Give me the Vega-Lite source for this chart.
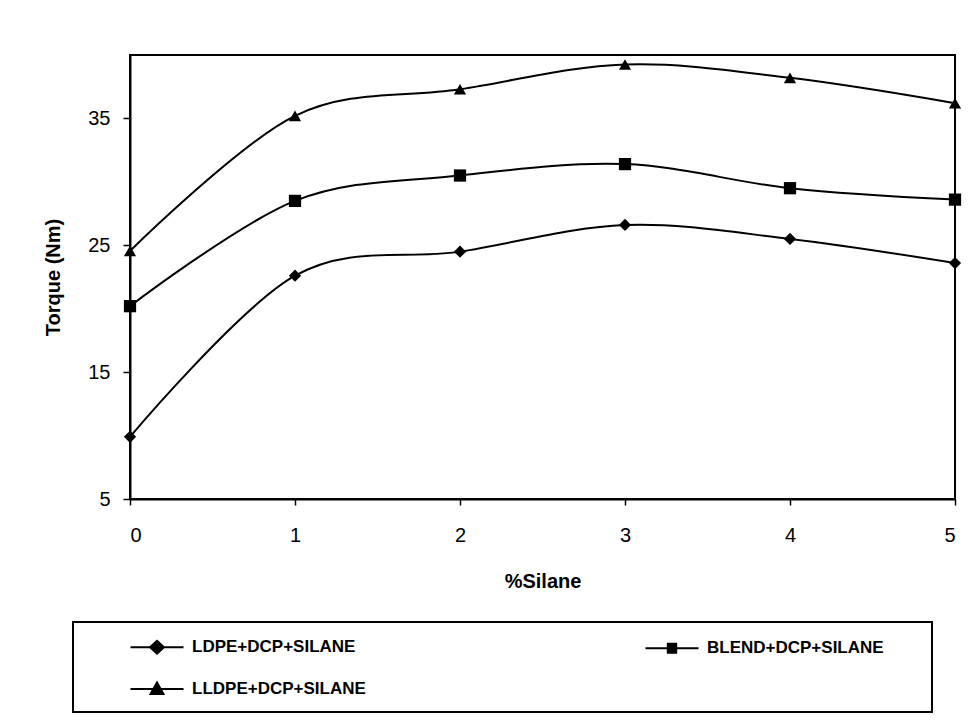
{
  "$schema": "https://vega.github.io/schema/vega-lite/v6.json",
  "width": 825,
  "height": 444,
  "autosize": {"type": "none"},
  "padding": {"left": 130, "top": 55, "right": 16, "bottom": 226},
  "background": "white",
  "config": {
    "font": "Liberation Sans",
    "view": {"stroke": "black", "strokeWidth": 2},
    "axis": {"domainColor": "black", "domainWidth": 2, "tickColor": "black", "tickWidth": 1.5, "labelColor": "black", "titleColor": "black", "grid": false, "labelFont": "Liberation Sans", "titleFont": "Liberation Sans", "labelFontSize": 20, "titleFontSize": 20, "titleFontWeight": "bold"}
  },
  "data": {
    "values": [
      {"silane": 0, "torque": 9.9, "series": "LDPE+DCP+SILANE"},
      {"silane": 1, "torque": 22.6, "series": "LDPE+DCP+SILANE"},
      {"silane": 2, "torque": 24.5, "series": "LDPE+DCP+SILANE"},
      {"silane": 3, "torque": 26.6, "series": "LDPE+DCP+SILANE"},
      {"silane": 4, "torque": 25.5, "series": "LDPE+DCP+SILANE"},
      {"silane": 5, "torque": 23.6, "series": "LDPE+DCP+SILANE"},
      {"silane": 0, "torque": 20.2, "series": "BLEND+DCP+SILANE"},
      {"silane": 1, "torque": 28.5, "series": "BLEND+DCP+SILANE"},
      {"silane": 2, "torque": 30.5, "series": "BLEND+DCP+SILANE"},
      {"silane": 3, "torque": 31.4, "series": "BLEND+DCP+SILANE"},
      {"silane": 4, "torque": 29.5, "series": "BLEND+DCP+SILANE"},
      {"silane": 5, "torque": 28.6, "series": "BLEND+DCP+SILANE"},
      {"silane": 0, "torque": 24.55, "series": "LLDPE+DCP+SILANE"},
      {"silane": 1, "torque": 35.2, "series": "LLDPE+DCP+SILANE"},
      {"silane": 2, "torque": 37.3, "series": "LLDPE+DCP+SILANE"},
      {"silane": 3, "torque": 39.25, "series": "LLDPE+DCP+SILANE"},
      {"silane": 4, "torque": 38.2, "series": "LLDPE+DCP+SILANE"},
      {"silane": 5, "torque": 36.2, "series": "LLDPE+DCP+SILANE"}
    ]
  },
  "encoding": {
    "x": {
      "field": "silane", "type": "quantitative", "title": "%Silane",
      "scale": {"domain": [0, 5], "nice": false, "zero": false},
      "axis": {"values": [0, 1, 2, 3, 4, 5], "tickSize": 6, "labelPadding": 20, "titlePadding": 26, "format": "d"}
    },
    "y": {
      "field": "torque", "type": "quantitative", "title": "Torque (Nm)",
      "scale": {"domain": [5, 40], "nice": false, "zero": false},
      "axis": {"values": [5, 15, 25, 35], "tickSize": 7, "labelPadding": 13, "titlePadding": 24}
    }
  },
  "resolve": {"scale": {"shape": "independent"}, "legend": {"shape": "independent"}},
  "layer": [
    {
      "mark": {"type": "line", "color": "black", "strokeWidth": 2, "interpolate": "cardinal"},
      "encoding": {"detail": {"field": "series"}}
    },
    {
      "mark": {"type": "point", "filled": true, "color": "black", "opacity": 1, "size": 150},
      "encoding": {
        "shape": {
          "field": "series", "type": "nominal",
          "scale": {"domain": ["LDPE+DCP+SILANE", "BLEND+DCP+SILANE", "LLDPE+DCP+SILANE"], "range": ["diamond", "square", "triangle-up"]},
          "legend": null
        }
      }
    },
    {
      "mark": {"type": "point", "filled": true, "color": "black", "stroke": "black", "strokeWidth": 2, "opacity": 0, "size": 150},
      "encoding": {
        "shape": {
          "field": "series", "type": "nominal",
          "scale": {
            "domain": ["LDPE+DCP+SILANE", "BLEND+DCP+SILANE", "LLDPE+DCP+SILANE"],
            "range": [
              "M-2.65,0H2.65M-0.7,0L0,-0.65L0.7,0L0,0.65Z",
              "M-2.65,0H2.65M-0.42,-0.45H0.42V0.45H-0.42ZM24.2,0",
              "M-2.65,0H2.65M-0.65,0.5L0,-0.65L0.65,0.5Z"
            ]
          },
          "legend": {
            "title": null,
            "orient": "none",
            "legendX": -57,
            "legendY": 567,
            "direction": "horizontal",
            "columns": 2,
            "padding": 14,
            "strokeColor": "black",
            "symbolSize": 400,
            "symbolOpacity": 1,
            "symbolFillColor": "black",
            "symbolStrokeColor": "black",
            "symbolStrokeWidth": 2,
            "symbolOffset": 59,
            "labelOffset": 24,
            "rowPadding": 20,
            "columnPadding": 236,
            "labelFont": "Liberation Sans",
            "labelFontSize": 17,
            "labelFontWeight": "bold",
            "labelColor": "black",
            "labelLimit": 400,
            "encoding": {
              "legend": {"strokeWidth": {"value": 2}},
              "symbols": {"stroke": {"value": "black"}, "strokeWidth": {"value": 2}, "fill": {"value": "black"}}
            }
          }
        }
      }
    }
  ]
}
